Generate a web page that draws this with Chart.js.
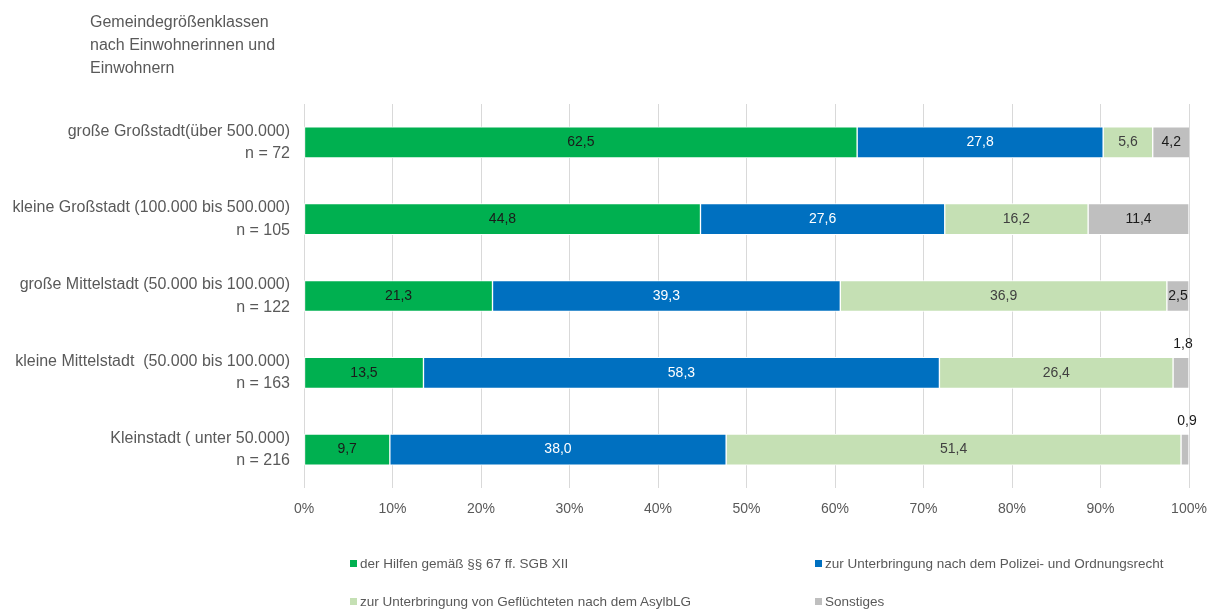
<!DOCTYPE html>
<html>
<head>
<meta charset="utf-8">
<script src="https://cdn.jsdelivr.net/npm/chart.js@4"></script>
<style>
  body { margin: 0; background: #fff; }
  #wrap { position: relative; width: 1207px; height: 609px; }
  #titel { position: absolute; left: 90px; top: 10px; font: 16px "Liberation Sans Narrow", "Arial Narrow", Arial, sans-serif; color: #595959; line-height: 23px; }
  .leg { position: absolute; font: 13.5px "Liberation Sans Narrow", "Arial Narrow", Arial, sans-serif; color: #595959; white-space: nowrap; }
  .leg i { display: inline-block; width: 7px; height: 7px; margin-right: 3px; vertical-align: 1px; }
</style>
</head>
<body>
<div id="wrap">
  <canvas id="grafico" width="1207" height="609"></canvas>
  <div id="titel">Gemeindegrößenklassen<br>nach Einwohnerinnen und<br>Einwohnern</div>
  <div id="legende"></div>
</div>
<script>
// Kategorien (Gemeindegrößenklassen)
const kategorien = [
  ['große Großstadt(über 500.000)', 'n = 72'],
  ['kleine Großstadt (100.000 bis 500.000)', 'n = 105'],
  ['große Mittelstadt (50.000 bis 100.000)', 'n = 122'],
  ['kleine Mittelstadt  (50.000 bis 100.000)', 'n = 163'],
  ['Kleinstadt ( unter 50.000)', 'n = 216']
];

// Reihen
const serien = [
  'der Hilfen gemäß §§ 67 ff. SGB XII',
  'zur Unterbringung nach dem Polizei- und Ordnungsrecht',
  'zur Unterbringung von Geflüchteten nach dem AsylbLG',
  'Sonstiges'
];
const hilfen67 = [62.5, 44.8, 21.3, 13.5, 9.7];
const polizeiRecht = [27.8, 27.6, 39.3, 58.3, 38.0];
const asylbLG = [5.6, 16.2, 36.9, 26.4, 51.4];
const sonstiges = [4.2, 11.4, 2.5, 1.8, 0.9];

const farben = ['#00B050', '#0070C0', '#C5E0B4', '#BFBFBF'];
const textFarben = ['#1a1a1a', '#ffffff', '#404040', '#1a1a1a'];
const schrift = '"Liberation Sans Narrow", "Arial Narrow", Arial, sans-serif';

const werte = [hilfen67, polizeiRecht, asylbLG, sonstiges];

// Werte in die Balken schreiben (deutsches Komma)
const wertePlugin = {
  id: 'werte',
  afterDatasetsDraw(chart) {
    const ctx = chart.ctx;
    ctx.save();
    ctx.font = '14px ' + schrift;
    ctx.textAlign = 'center';
    ctx.textBaseline = 'middle';
    chart.data.datasets.forEach((ds, i) => {
      const meta = chart.getDatasetMeta(i);
      meta.data.forEach((bar, j) => {
        const v = ds.data[j];
        const txt = v.toFixed(1).replace('.', ',');
        const breite = Math.abs(bar.x - bar.base);
        ctx.fillStyle = textFarben[i];
        if (breite < 20) {
          // zu schmal -> über den Balken
          ctx.fillStyle = '#1a1a1a';
          ctx.fillText(txt, (bar.x + bar.base) / 2 + 2, bar.y - bar.height / 2 - 13);
        } else {
          ctx.fillText(txt, (bar.x + bar.base) / 2, bar.y);
        }
      });
    });
    ctx.restore();
  }
};

const datasets = serien.map((name, i) => ({
  label: name,
  data: werte[i],
  backgroundColor: farben[i],
  borderColor: '#ffffff',
  borderWidth: 1,
  borderSkipped: false,
  barThickness: 31
}));

new Chart(document.getElementById('grafico'), {
  type: 'bar',
  data: { labels: kategorien, datasets: datasets },
  options: {
    indexAxis: 'y',
    responsive: false,
    animation: false,
    layout: { padding: { top: 104, right: 18, left: 0, bottom: 0 } },
    plugins: { legend: { display: false }, tooltip: { enabled: false } },
    scales: {
      x: {
        stacked: true,
        min: 0,
        max: 100,
        ticks: {
          stepSize: 10,
          padding: 13,
          color: '#595959',
          font: { family: schrift, size: 14 },
          callback: v => v + '%'
        },
        grid: { color: '#d9d9d9', drawTicks: false },
        border: { display: false },
        afterFit: s => { s.height = 121; s.paddingLeft = 0; s.paddingRight = 0; }
      },
      y: {
        stacked: true,
        ticks: {
          padding: 6,
          color: '#595959',
          font: { family: schrift, size: 16, lineHeight: 1.4 }
        },
        grid: { display: false },
        border: { display: false },
        afterFit: s => { s.width = 304; }
      }
    }
  },
  plugins: [wertePlugin]
});

// Legende (2 x 2)
const legPos = [[350, 556], [815, 556], [350, 594], [815, 594]];
const legende = document.getElementById('legende');
serien.forEach((name, i) => {
  const d = document.createElement('div');
  d.className = 'leg';
  d.style.left = legPos[i][0] + 'px';
  d.style.top = legPos[i][1] + 'px';
  d.innerHTML = '<i style="background:' + farben[i] + '"></i>' + name;
  legende.appendChild(d);
});
</script>
</body>
</html>
